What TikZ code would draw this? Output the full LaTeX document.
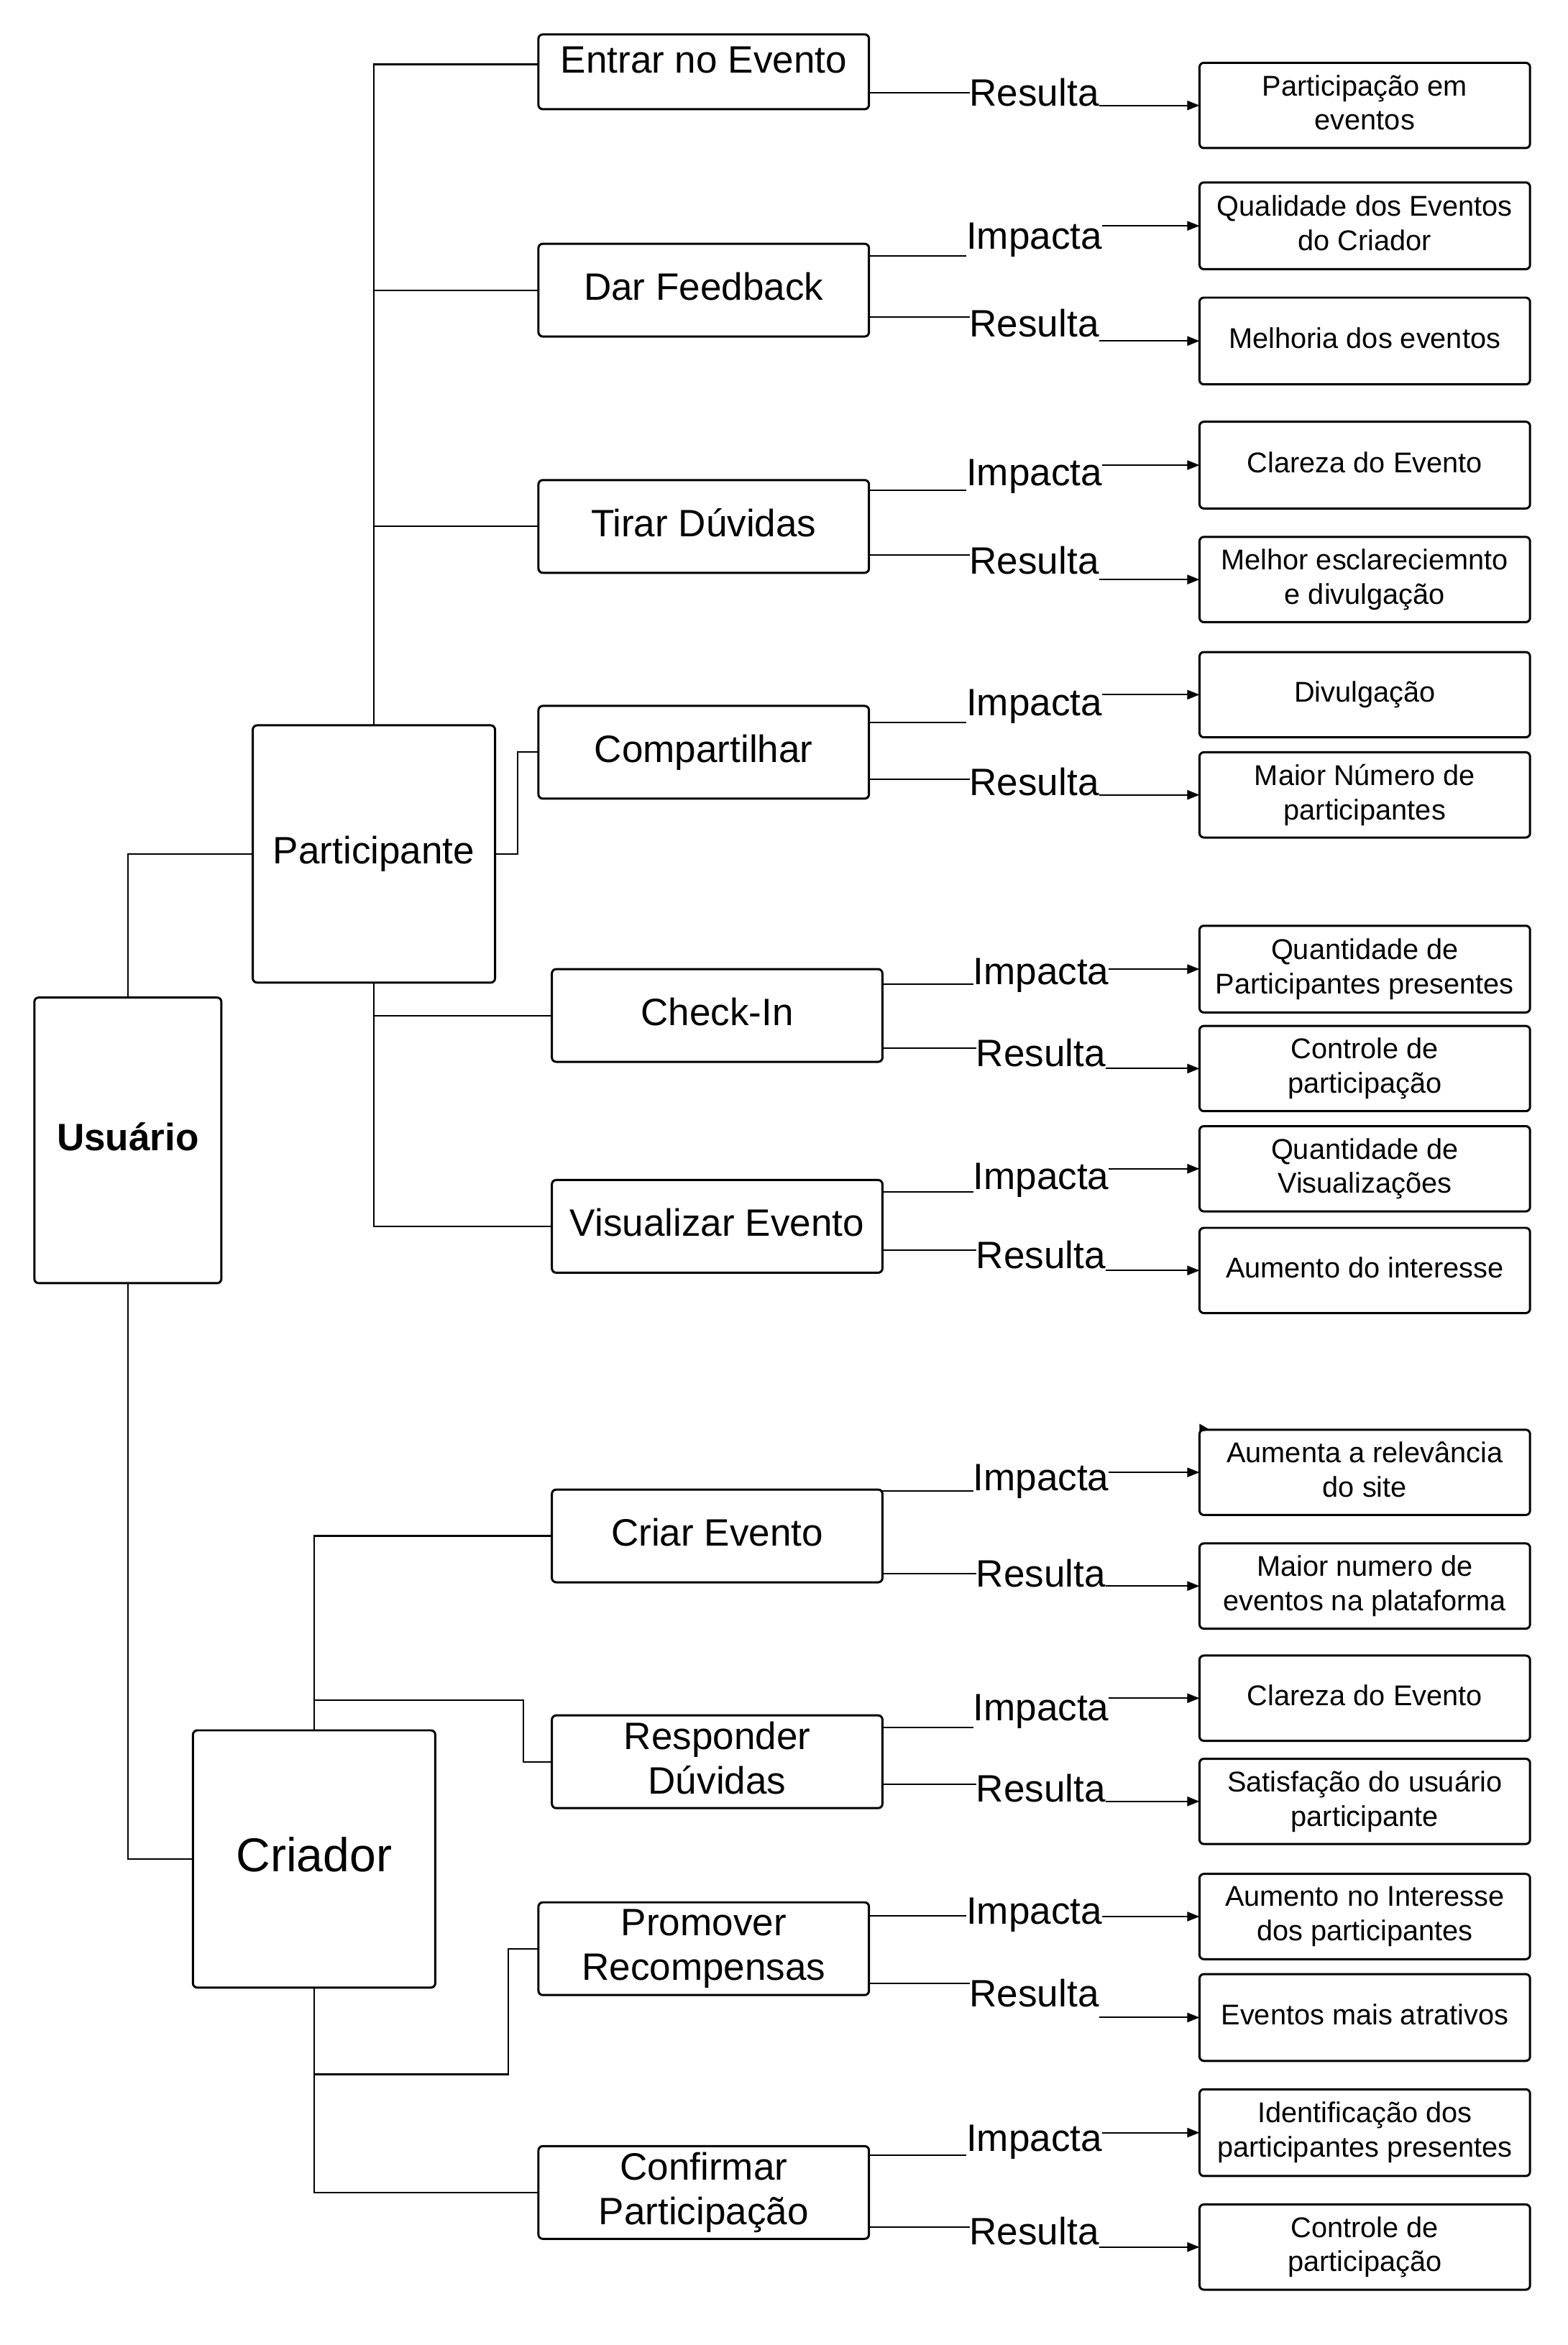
\documentclass[tikz,border=0pt]{standalone}
\usepackage{fontspec}
\setmainfont{Liberation Sans}
\usetikzlibrary{arrows.meta}
\newdimen\U \U=0.20802mm
\newcommand\fmain{\fontsize{15.1pt}{17.7pt}\selectfont}
\newcommand\fsmall{\fontsize{11.3pt}{13.6pt}\selectfont}
\newcommand\fbig{\fontsize{18.8pt}{22pt}\selectfont}
\tikzset{
  box/.style={draw, line width=0.85pt, rounded corners=0.6mm, inner sep=0pt, outer sep=0pt, align=center, font=\fmain},
  rbox/.style={box, font=\fsmall},
  conn/.style={line width=0.6pt},
  arr/.style={conn, -{Triangle[length=1.7mm,width=1.3mm]}},
  lbl/.style={inner sep=0pt, outer sep=0pt, font=\fmain, anchor=base},
}
\newcommand\bx[7]{\node[#7, minimum width={(#4-#2)*\U}, minimum height={(#5-#3)*\U}] (#1) at ({(#2+#4)/2},{(#3+#5)/2}) {#6\vphantom{g}};}
\newcommand\rel[7]{%
  \node[lbl] (#1) at (#5,#6) {#4};
  \draw[conn] (#2.east |- 0,#3) -- (#1.west |- 0,#3);
  \draw[arr] (#1.east |- #7.west) -- (#7.west);}
\begin{document}
\begin{tikzpicture}[x=0.20802mm, y=-0.20802mm]
\useasboundingbox (0,0) rectangle (1048,1568);
% main boxes
\bx{us}{23}{667}{148}{858}{\textbf{Usuário}}{box}
\bx{pa}{169}{485}{331}{657}{Participante}{box}
\bx{cr}{129}{1157}{291}{1329}{\fbig Criador}{box}
% level 2
\node[box, minimum width={221*\U}, minimum height={50*\U}] (en) at (470.5,48) {};
\node[font=\fmain, inner sep=0pt] (ent) at (470.5,40) {Entrar no Evento};
\bx{df}{360}{163}{581}{225}{Dar Feedback}{box}
\bx{td}{360}{321}{581}{383}{Tirar Dúvidas}{box}
\bx{co}{360}{472}{581}{534}{Compartilhar}{box}
\bx{ci}{369}{648}{590}{710}{Check-In}{box}
\bx{ve}{369}{789}{590}{851}{Visualizar Evento}{box}
\bx{ce}{369}{996}{590}{1058}{Criar Evento}{box}
\bx{rd}{369}{1147}{590}{1209}{Responder\\Dúvidas}{box}
\bx{pr}{360}{1272}{581}{1334}{Promover\\Recompensas}{box}
\bx{cf}{360}{1435}{581}{1497}{Confirmar\\Participação}{box}
% right boxes
\bx{t1}{802}{42}{1023}{99}{Participação em\\eventos}{rbox}
\bx{t2}{802}{122}{1023}{180}{Qualidade dos Eventos\\do Criador}{rbox}
\bx{t3}{802}{199}{1023}{257}{Melhoria dos eventos}{rbox}
\bx{t4}{802}{282}{1023}{340}{Clareza do Evento}{rbox}
\bx{t5}{802}{359}{1023}{416}{Melhor esclareciemnto\\e divulgação}{rbox}
\bx{t6}{802}{436}{1023}{493}{Divulgação}{rbox}
\bx{t7}{802}{503}{1023}{560}{Maior Número de\\participantes}{rbox}
\bx{t8}{802}{619}{1023}{677}{Quantidade de\\Participantes presentes}{rbox}
\bx{t9}{802}{686}{1023}{743}{Controle de\\participação}{rbox}
\bx{t10}{802}{753}{1023}{810}{Quantidade de\\Visualizações}{rbox}
\bx{t11}{802}{821}{1023}{878}{Aumento do interesse}{rbox}
\bx{t12}{802}{956}{1023}{1013}{Aumenta a relevância\\do site}{rbox}
\bx{t13}{802}{1032}{1023}{1089}{Maior numero de\\eventos na plataforma}{rbox}
\bx{t14}{802}{1107}{1023}{1164}{Clareza do Evento}{rbox}
\bx{t15}{802}{1176}{1023}{1233}{Satisfação do usuário\\participante}{rbox}
\bx{t16}{802}{1253}{1023}{1310}{Aumento no Interesse\\dos participantes}{rbox}
\bx{t17}{802}{1320}{1023}{1378}{Eventos mais atrativos}{rbox}
\bx{t18}{802}{1397}{1023}{1455}{Identificação dos\\participantes presentes}{rbox}
\bx{t19}{802}{1474}{1023}{1531}{Controle de\\participação}{rbox}
% stray arrowhead
\fill (802,952) -- (809,956) -- (802,957.5) -- cycle;
% tree connectors
\draw[conn] (us.north) |- (pa.west);
\draw[conn] (us.south) |- (cr.west);
\draw[conn] (pa.north) |- (en.west |- 0,43);
\draw[conn] (pa.north) |- (df.west);
\draw[conn] (pa.north) |- (td.west);
\draw[conn] (pa.east) -- (346,571) |- (co.west);
\draw[conn] (pa.south) |- (ci.west);
\draw[conn] (pa.south) |- (ve.west);
\draw[conn] (cr.north) |- (ce.west);
\draw[conn] (cr.north |- 0,1137) -- (350,1137) |- (rd.west);
\draw[conn] (cr.south) |- (cf.west);
\draw[conn] (cr.south |- 0,1387) -- (340,1387) |- (pr.west);
% relations
\rel{a1}{en}{62}{Resulta}{691.5}{71}{t1}
\rel{a2}{df}{171}{Impacta}{691.5}{166.5}{t2}
\rel{a3}{df}{212}{Resulta}{691.5}{225}{t3}
\rel{a4}{td}{328}{Impacta}{691.5}{324.5}{t4}
\rel{a5}{td}{371}{Resulta}{691.5}{384}{t5}
\rel{a6}{co}{483}{Impacta}{691.5}{478.5}{t6}
\rel{a7}{co}{521}{Resulta}{691.5}{532}{t7}
\rel{a8}{ci}{658}{Impacta}{696}{658.5}{t8}
\rel{a9}{ci}{701}{Resulta}{696}{713}{t9}
\rel{a10}{ve}{797}{Impacta}{696}{795.5}{t10}
\rel{a11}{ve}{836}{Resulta}{696}{848}{t11}
\rel{a12}{ce}{997}{Impacta}{696}{996.5}{t12}
\rel{a13}{ce}{1052}{Resulta}{696}{1061}{t13}
\rel{a14}{rd}{1155}{Impacta}{696}{1150.5}{t14}
\rel{a15}{rd}{1193}{Resulta}{696}{1205}{t15}
\rel{a16}{pr}{1281}{Impacta}{691.5}{1286.5}{t16}
\rel{a17}{pr}{1326}{Resulta}{691.5}{1342}{t17}
\rel{a18}{cf}{1441}{Impacta}{691.5}{1438.5}{t18}
\rel{a19}{cf}{1489}{Resulta}{691.5}{1501}{t19}
\end{tikzpicture}
\end{document}
